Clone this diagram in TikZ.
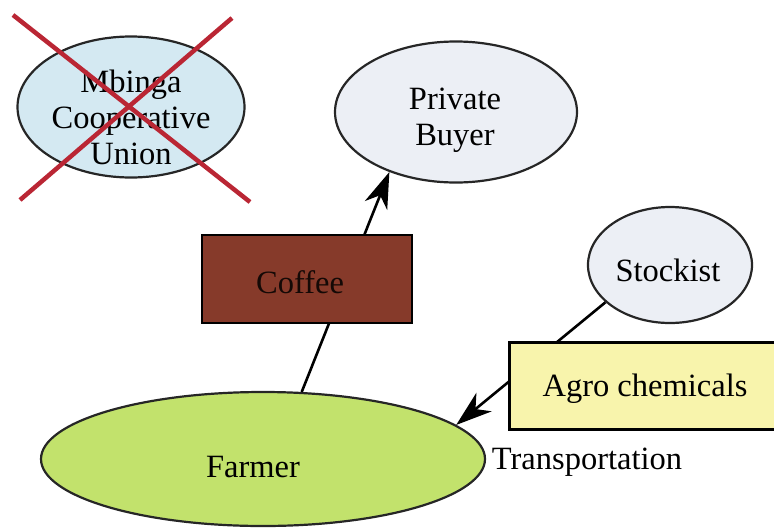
\documentclass[tikz,border=0pt]{standalone}
\usepackage{fontspec}
\setmainfont{Liberation Serif}
\usetikzlibrary{shapes.geometric,arrows.meta}

\definecolor{unionblue}{RGB}{212,233,242}
\definecolor{buyergrey}{RGB}{236,239,245}
\definecolor{coffeebrown}{RGB}{134,58,42}
\definecolor{agroyellow}{RGB}{248,244,172}
\definecolor{farmergreen}{RGB}{194,226,108}
\definecolor{crossred}{RGB}{186,38,52}

\begin{document}
\begin{tikzpicture}[x=1pt,y=-1pt,
    bigfont/.style={font=\fontsize{32.5}{36}\selectfont},
    bubble/.style={ellipse,draw=black!85,line width=2.2pt,inner sep=0pt,align=center,bigfont},
    goods/.style={rectangle,draw=black,line width=2.2pt,inner sep=0pt,bigfont},
    flow/.style={line width=2.6pt,-{Stealth[length=36pt,width=24pt,inset=11pt]}}]
      \useasboundingbox (0,0) rectangle (774,528);
      % actors
      \node[bubble,fill=unionblue,minimum width=227pt,minimum height=141pt] (union) at (131,107) {};
      \node[align=center,bigfont,inner sep=0pt] (uniontext) at (131,117) {Mbinga\\Cooperative\\Union};
      \node[bubble,fill=buyergrey,minimum width=242pt,minimum height=141pt] (buyer) at (456,112) {};
      \node[align=center,bigfont,inner sep=0pt] (buyertext) at (455,120) {Private\\Buyer};
      \node[bubble,fill=buyergrey,minimum width=164pt,minimum height=116pt] (stockist) at (670,265) {};
      \node[bigfont,inner sep=0pt] (stockisttext) at (668,270) {Stockist};
      \node[bubble,fill=farmergreen,minimum width=444pt,minimum height=134pt] (farmer) at (263,459) {};
      \node[bigfont,inner sep=0pt] (farmertext) at (253,467) {Farmer};
      % flows
      \draw[flow] (farmer.60) -- (buyer.222);
      \draw[flow] (stockist.210) -- (farmer.10);
      % goods on the flows
      \node[goods,fill=coffeebrown,minimum width=210pt,minimum height=88pt] (coffee) at (307,279) {};
      \node[bigfont,inner sep=0pt,text=black!85!coffeebrown] (coffeetext) at (300,282) {Coffee};
      \node[goods,fill=agroyellow,minimum width=275pt,minimum height=87pt] (agro) at (647,386) {};
      \node[bigfont,inner sep=0pt] (agrotext) at (645,389) {Agro chemicals};
      \node[bigfont,inner sep=0pt] (transport) at (587,462) {Transportation};
      % union crossed out
      \draw[crossred,line width=4.5pt] (13,15) -- (250,202);
      \draw[crossred,line width=4.5pt] (232,18) -- (20,200);
\end{tikzpicture}
\end{document}
